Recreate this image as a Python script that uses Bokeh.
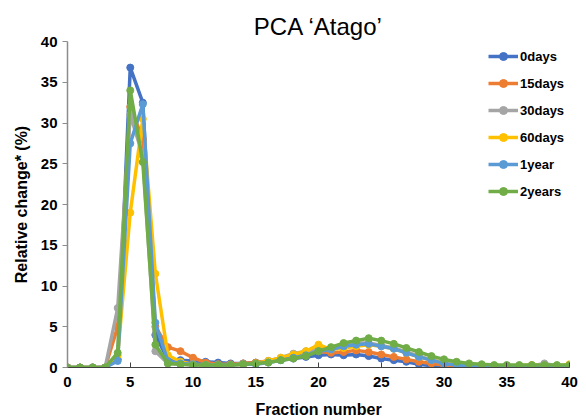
from bokeh.plotting import figure
from bokeh.models import Range1d, FixedTicker, Legend, LegendItem
from bokeh.embed import file_html
from bokeh.resources import INLINE

fractions = list(range(0, 41))

days0 = [0, 0, 0, 0, 1.0, 36.8, 32.5, 4.0, 1.0, 0.9, 0.8, 0.7, 0.6, 0.5, 0.5, 0.6, 0.7, 0.9, 1.1, 1.3,
         1.5, 1.6, 1.5, 1.6, 1.4, 1.1, 0.9, 0.7, 0.4, 0.2, 0.1, 0.1, 0.1, 0.1, 0.2, 0.1, 0.1, 0.1, 0.1, 0.1, 0.1]
days15 = [0, 0, 0, 0, 5.0, 32.0, 28.0, 5.0, 2.5, 2.0, 1.2, 0.6, 0.4, 0.4, 0.5, 0.6, 0.8, 1.1, 1.4, 1.7,
          2.0, 1.8, 1.9, 2.1, 1.9, 1.6, 1.3, 1.0, 0.7, 0.5, 0.3, 0.2, 0.2, 0.1, 0.1, 0.1, 0.1, 0.1, 0.1, 0.1, 0.1]
days30 = [0, 0, 0, 0, 7.3, 31.0, 26.0, 2.0, 0.5, 0.4, 0.3, 0.3, 0.3, 0.3, 0.4, 0.5, 0.8, 1.2, 1.7, 2.0,
          2.2, 2.3, 2.6, 3.0, 3.0, 2.7, 2.4, 1.9, 1.4, 0.9, 0.6, 0.4, 0.3, 0.2, 0.2, 0.2, 0.2, 0.2, 0.5, 0.2, 0.2]
days60 = [0, 0, 0, 0, 1.5, 19.0, 30.5, 11.5, 1.5, 0.7, 0.4, 0.3, 0.3, 0.3, 0.4, 0.5, 0.8, 1.2, 1.6, 2.0,
          2.8, 2.2, 2.4, 2.6, 2.8, 2.6, 2.3, 1.8, 1.3, 0.9, 0.6, 0.4, 0.3, 0.2, 0.2, 0.2, 0.2, 0.3, 0.2, 0.2, 0.4]
year1 = [0, 0, 0, 0, 0.8, 27.5, 32.3, 5.5, 0.8, 0.5, 0.4, 0.3, 0.3, 0.3, 0.4, 0.4, 0.6, 0.9, 1.2, 1.5,
         2.0, 2.2, 2.6, 2.8, 2.9, 2.6, 2.3, 1.8, 1.3, 0.9, 0.5, 0.3, 0.2, 0.2, 0.1, 0.1, 0.1, 0.1, 0.1, 0.1, 0.1]
years2 = [0, 0, 0, 0, 1.8, 34.0, 25.2, 2.8, 0.5, 0.4, 0.3, 0.3, 0.3, 0.3, 0.4, 0.5, 0.6, 0.9, 1.1, 1.4,
          2.0, 2.5, 3.0, 3.3, 3.6, 3.3, 2.9, 2.4, 1.9, 1.4, 1.0, 0.7, 0.5, 0.4, 0.3, 0.3, 0.3, 0.3, 0.3, 0.3, 0.3]

series_names = ["0days", "15days", "30days", "60days", "1year", "2years"]
series_values = [days0, days15, days30, days60, year1, years2]
series_colors = ["#4472C4", "#ED7D31", "#A5A5A5", "#FFC000", "#5B9BD5", "#70AD47"]

x_ticks = [0, 5, 10, 15, 20, 25, 30, 35, 40]
y_ticks = [0, 5, 10, 15, 20, 25, 30, 35, 40]

FONT = "Liberation Sans"

p = figure(width=586, height=420, output_backend="svg", toolbar_location=None,
           x_range=Range1d(0, 40), y_range=Range1d(0, 40),
           min_border_left=67, min_border_right=17, min_border_top=41, min_border_bottom=51,
           title="PCA \u2018Atago\u2019")
p.outline_line_color = None
p.xgrid.grid_line_color = None
p.ygrid.grid_line_color = None
p.background_fill_color = "white"
p.border_fill_color = "white"

p.title.align = "center"
p.title.text_font = FONT
p.title.text_font_size = "24px"
p.title.text_font_style = "normal"
p.title.text_color = "#000000"
p.title.offset = 0
p.title.standoff = 4

p.xaxis.ticker = FixedTicker(ticks=x_ticks)
p.yaxis.ticker = FixedTicker(ticks=y_ticks)
for ax in (p.xaxis[0], p.yaxis[0]):
    ax.major_label_text_font = FONT
    ax.major_label_text_font_size = "15px"
    ax.major_label_text_font_style = "bold"
    ax.major_label_text_color = "#000000"
    ax.axis_label_text_font = FONT
    ax.axis_label_text_font_size = "16px"
    ax.axis_label_text_font_style = "bold"
    ax.axis_label_text_color = "#000000"
    ax.minor_tick_line_color = None

p.xaxis.axis_label = "Fraction number"
p.xaxis.axis_line_color = "#404040"
p.xaxis.axis_line_width = 1
p.xaxis.major_tick_line_color = "#404040"
p.xaxis.major_tick_in = 5
p.xaxis.major_tick_out = 0
p.xaxis.major_label_standoff = 9
p.xaxis.axis_label_standoff = 11

p.yaxis.axis_label = "Relative change* (%)"
p.yaxis.axis_line_color = "#8C8C8C"
p.yaxis.axis_line_width = 1.5
p.yaxis.major_tick_line_color = "#8C8C8C"
p.yaxis.major_tick_in = 0
p.yaxis.major_tick_out = 5
p.yaxis.major_label_standoff = 5
p.yaxis.axis_label_standoff = 8

items = []
for name, vals, col in zip(series_names, series_values, series_colors):
    r1 = p.line(fractions, vals, line_color=col, line_width=3.5)
    r2 = p.scatter(fractions, vals, marker="circle", size=7, fill_color=col, line_color=col)
    items.append(LegendItem(label=name, renderers=[r1, r2]))

legend = Legend(items=items, location=(421, 166))
legend.background_fill_alpha = 0
legend.border_line_color = None
legend.padding = 0
legend.margin = 0
legend.spacing = 7
legend.label_height = 20
legend.glyph_height = 20
legend.glyph_width = 30
legend.label_standoff = 2
legend.label_text_font = FONT
legend.label_text_font_size = "13px"
legend.label_text_font_style = "bold"
legend.label_text_color = "#000000"
p.add_layout(legend)

open("out.html", "w").write(file_html(p, INLINE))
